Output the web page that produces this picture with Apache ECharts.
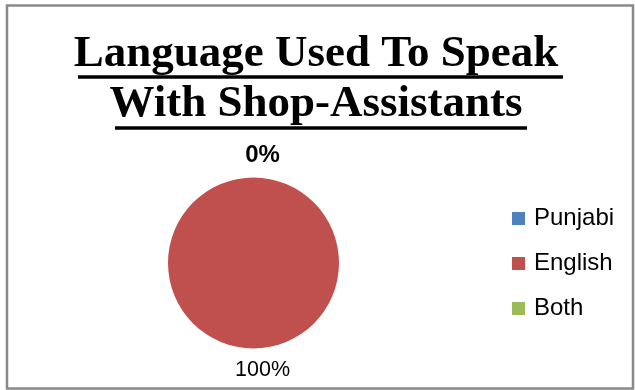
<!DOCTYPE html>
<html>
<head>
<meta charset="utf-8">
<script src="https://cdn.jsdelivr.net/npm/echarts@6/dist/echarts.min.js"></script>
<style>
  html, body { margin: 0; padding: 0; background: #ffffff; }
  #chart { width: 635px; height: 390px; }
</style>
</head>
<body>
<div id="chart"></div>
<script>
// Survey answers: language used when speaking with shop assistants (percent)
const categories = ['Punjabi', 'English', 'Both'];
const shares = [0, 100, 0];
const sliceColors = ['#4F81BD', '#C0504D', '#9BBB59'];
const titleText = 'Language Used To Speak\nWith Shop-Assistants';

const chart = echarts.init(document.getElementById('chart'), null, { renderer: 'canvas' });

// empty slices get a larger bold label
const pieData = categories.map((name, i) => ({
  name: name,
  value: shares[i],
  label: shares[i] === 0
    ? { fontWeight: 'bold', fontSize: 24 }
    : { fontWeight: 'normal', fontSize: 21.5 }
}));

chart.setOption({
  animation: false,
  backgroundColor: '#ffffff',
  color: sliceColors,
  title: {
    text: titleText,
    left: 316,
    top: 29,
    textAlign: 'center',
    padding: 0,
    textStyle: {
      fontFamily: 'Liberation Serif',
      fontWeight: 'bold',
      fontSize: 45,
      lineHeight: 50,
      color: '#000000'
    }
  },
  legend: {
    orient: 'vertical',
    left: 512,
    top: 206.5,
    padding: 0,
    icon: 'rect',
    itemWidth: 13,
    itemHeight: 13,
    itemGap: 21,
    data: categories,
    textStyle: {
      fontFamily: 'Liberation Sans',
      fontSize: 24,
      color: '#000000',
      padding: [0, 0, 0, 4]
    }
  },
  graphic: [
    // outer frame
    {
      type: 'rect',
      shape: { x: 7, y: 5.5, width: 626, height: 383 },
      style: { fill: null, stroke: '#898989', lineWidth: 2.5 },
      silent: true
    },
    // title underlines
    {
      type: 'line',
      shape: { x1: 78, y1: 77, x2: 563, y2: 77 },
      style: { stroke: '#000000', lineWidth: 3.5 },
      silent: true
    },
    {
      type: 'line',
      shape: { x1: 115, y1: 128, x2: 527, y2: 128 },
      style: { stroke: '#000000', lineWidth: 3.5 },
      silent: true
    }
  ],
  series: [{
    type: 'pie',
    center: [253.5, 263],
    radius: 85.5,
    startAngle: 90,
    clockwise: true,
    avoidLabelOverlap: false,
    data: pieData,
    itemStyle: { borderWidth: 0 },
    label: {
      show: true,
      position: 'outside',
      formatter: '{d}%',
      fontFamily: 'Liberation Sans',
      color: '#000000',
      distanceToLabelLine: 0
    },
    labelLine: { show: false, length: 22, length2: 0 },
    labelLayout: { align: 'center', dx: 9 },
    emphasis: { disabled: true }
  }]
});
</script>
</body>
</html>
